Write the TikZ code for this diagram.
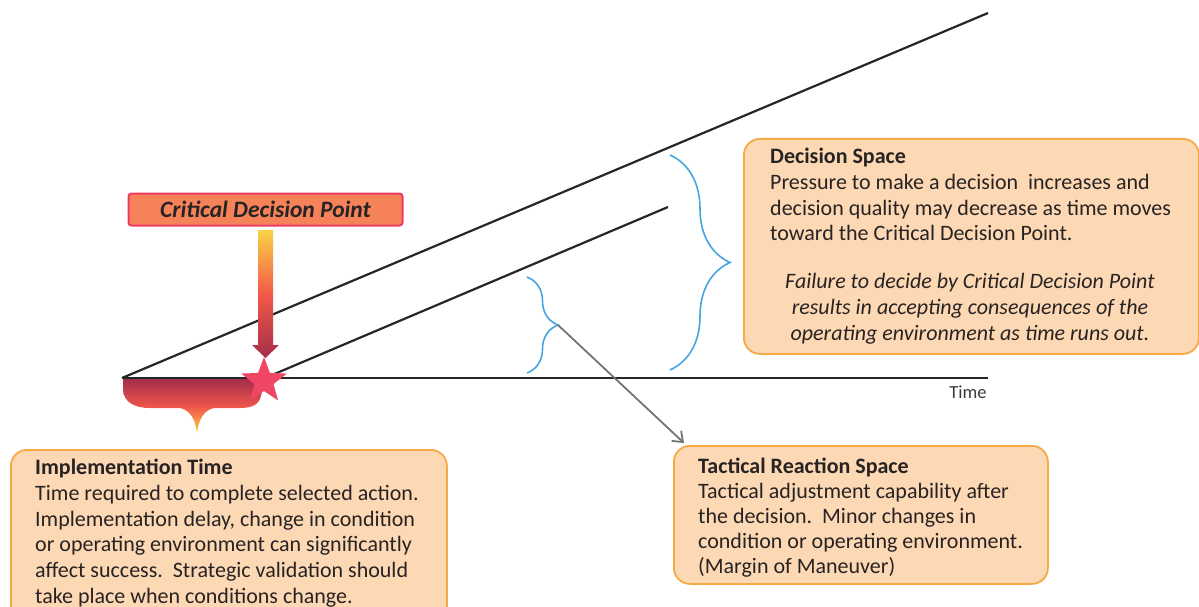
\documentclass[tikz,border=0pt]{standalone}
\usepackage{fontspec}
\setmainfont{Carlito}
\usetikzlibrary{shapes.geometric,decorations.pathreplacing,arrows.meta}
\definecolor{boxfill}{RGB}{252,216,180}
\definecolor{boxline}{RGB}{245,170,70}
\definecolor{bracecol}{RGB}{70,165,225}
\definecolor{txt}{RGB}{40,35,35}
\definecolor{cdpfill}{RGB}{246,130,90}
\definecolor{cdpline}{RGB}{236,60,100}
\definecolor{starcol}{RGB}{238,70,100}
\definecolor{maroon}{RGB}{165,45,75}
\definecolor{pinkred}{RGB}{240,80,90}
\definecolor{yel}{RGB}{248,210,70}
\tikzset{
  infobox/.style={draw=boxline, line width=1.8pt, fill=boxfill, rounded corners=16pt,
    inner sep=0pt, anchor=north west},
  boxtext/.style={anchor=north west, text=txt, align=left, inner sep=0pt,
    font=\fontsize{22}{25.7}\selectfont},
  bracestyle/.style={draw=bracecol, line width=1.6pt, decorate},
  axisline/.style={draw=black!85, line width=2.2pt},
}
\begin{document}
\begin{tikzpicture}[x=1pt,y=-1pt]
\useasboundingbox (0,0) rectangle (1199,607);
% coordinates
\coordinate (O) at (122,378);
\coordinate (E) at (988,378);
\coordinate (U) at (988,13);
\coordinate (S) at (265,378);
\coordinate (L) at (668,207);
% implementation shape
\shade[top color=maroon, bottom color=pinkred!85!orange]
  (123,379) -- (263,379) -- (262,390) .. controls (261,404) and (254,408) .. (240,408)
  -- (150,408) .. controls (134,408) and (124,402) .. (123,390) -- cycle;
\shade[top color=pinkred!85!orange, bottom color=yel]
  (176,407) .. controls (190,409) and (195,418) .. (197,433)
  .. controls (199,418) and (204,409) .. (218,407) -- cycle;
% lines
\draw[axisline] (O) -- (E);
\draw[axisline] (O) -- (U);
\draw[axisline] (S) -- (L);
\node[anchor=base, text=txt!90, inner sep=0pt, font=\fontsize{18.5}{20}\selectfont] (time) at (968,398) {Time};
% star
\node[star, star points=5, star point ratio=2.4, minimum size=48pt, fill=starcol, inner sep=0pt] (star) at (264,381) {};
% critical decision point box
\node[draw=cdpline, line width=2pt, fill=cdpfill, rounded corners=3pt, minimum width=274pt,
  minimum height=32pt, inner sep=0pt, text=txt, font=\fontsize{23.5}{26}\selectfont\bfseries\itshape] (cdp) at (265.5,209.5) {Critical Decision Point};
% gradient arrow
\shade[top color=yel, bottom color=maroon, middle color=pinkred!80!orange]
  (258,230) -- (273,230) -- (273,345) -- (279,345) -- (265.5,358) -- (252,345) -- (258,345) -- cycle;
% braces
\coordinate (b1a) at (527,277);
\coordinate (b1b) at (527,373);
\coordinate (b1tip) at (558,325);
\draw[bracestyle, decoration={brace, amplitude=31pt}] (b1a) -- (b1b);
\coordinate (b2a) at (670,155);
\coordinate (b2b) at (670,370);
\draw[bracestyle, decoration={brace, amplitude=60pt}] (b2a) -- (b2b);
% boxes
\node[infobox, minimum width=455pt, minimum height=215pt] (ds) at (743,138) {};
\node[boxtext] (dst) at (770,148)
  {\textbf{Decision Space}\\Pressure to make a decision\ \ increases and\\decision quality may decrease as time moves\\toward the Critical Decision Point.};
\node[boxtext, anchor=north, align=center, font=\fontsize{22}{26}\selectfont\itshape] (dsi) at (970,273)
  {Failure to decide by Critical Decision Point\\results in accepting consequences of the\\operating environment as time runs out.};
\node[infobox, minimum width=436pt, minimum height=175pt] (it) at (10,449) {};
\node[boxtext] (itt) at (35,459)
  {\textbf{Implementation Time}\\Time required to complete selected action.\\Implementation delay, change in condition\\or operating environment can significantly\\affect success.\ \ Strategic validation should\\take place when conditions change.};
\node[infobox, minimum width=374pt, minimum height=138pt] (tr) at (673,445) {};
\node[boxtext, font=\fontsize{22}{25}\selectfont] (trt) at (698,458)
  {\textbf{Tactical Reaction Space}\\Tactical adjustment capability after\\the decision.\ \ Minor changes in\\condition or operating environment.\\(Margin of Maneuver)};
% gray arrow
\coordinate (arrend) at (684,443);
\draw[draw=black!55, line width=1.8pt, -{Straight Barb[length=9pt,width=14pt]}] (b1tip) -- (arrend);
\end{tikzpicture}
\end{document}
